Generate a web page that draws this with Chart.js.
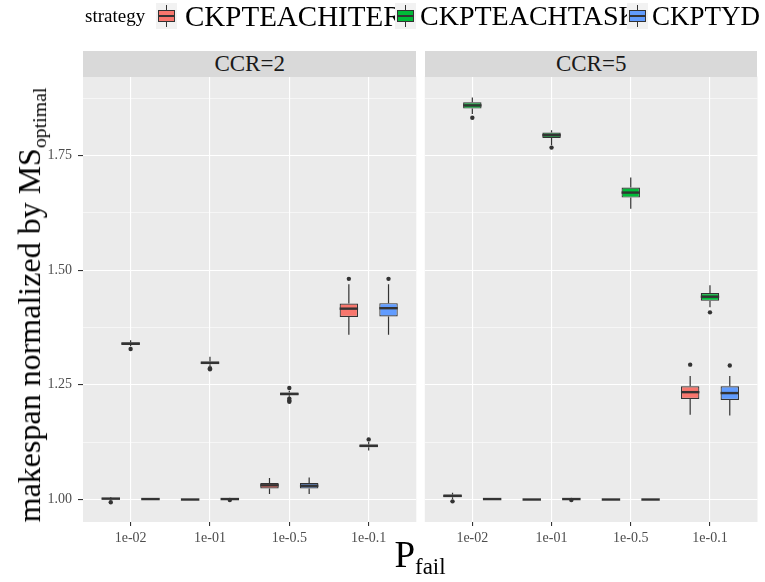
<!DOCTYPE html>
<html>
<head>
<meta charset="utf-8">
<script src="https://cdn.jsdelivr.net/npm/chart.js@4.4.1/dist/chart.umd.min.js"></script>
<style>
  body { margin: 0; background: #ffffff; font-family: 'Liberation Serif', serif; color: #000; }
  #wrap { position: relative; width: 765px; height: 582px; overflow: hidden; }
  canvas { position: absolute; top: 0; }
  .strip { position: absolute; top: 51px; height: 25.5px; background: #D9D9D9; color: #1A1A1A;
           font-size: 23px; line-height: 26px; text-align: center; }
  .key { position: absolute; top: 3px; width: 21px; height: 26px; background: #F2F2F2; }
  .key .whisk { position: absolute; left: 10px; top: 2px; width: 1.2px; height: 22px; background: #333; }
  .key .box { position: absolute; left: 2px; top: 7px; width: 15px; height: 10px; border: 1.2px solid #333; }
  .key .med { position: absolute; left: 2px; top: 12px; width: 17px; height: 2px; background: #333; }
  .lab { position: absolute; top: 0px; font-size: 28px; line-height: 32px; white-space: nowrap; }
  #ytitle { position: absolute; left: 31px; top: 305px; font-size: 32px; white-space: nowrap;
            transform: translate(-50%, -50%) rotate(-90deg); }
  #ytitle sub, #xtitle sub { font-size: 62%; vertical-align: -0.3em; }
  #xtitle { position: absolute; left: 420px; top: 535px; font-size: 37px; line-height: 40px;
            transform: translateX(-50%); white-space: nowrap; }
</style>
</head>
<body>
<div id="wrap">
  <canvas id="ccr2" width="420" height="582" style="left:0px"></canvas>
  <canvas id="ccr5" width="345" height="582" style="left:420px"></canvas>

  <div class="strip" style="left:83px; width:333.3px">CCR=2</div>
  <div class="strip" style="left:424.8px; width:332.7px">CCR=5</div>

  <div class="lab" style="left:85px; top:4px; font-size:19px; line-height:24px">strategy</div>
  <div class="key" style="left:156px"><div class="whisk"></div><div class="box" style="background:#F8766D"></div><div class="med"></div></div>
  <div class="lab" style="left:185px; font-size:29px">CKPTEACHITER</div>
  <div class="key" style="left:395px"><div class="whisk"></div><div class="box" style="background:#00BA38"></div><div class="med"></div></div>
  <div class="lab" style="left:420px">CKPTEACHTASK</div>
  <div class="key" style="left:627px"><div class="whisk"></div><div class="box" style="background:#619CFF"></div><div class="med"></div></div>
  <div class="lab" style="left:652px; font-size:27px">CKPTYD</div>

  <div id="ytitle">makespan normalized by MS<sub>optimal</sub></div>
  <div id="xtitle">P<sub>fail</sub></div>
</div>

<script>
// Categories and groups
const pfailLabels = ['1e-02', '1e-01', '1e-0.5', '1e-0.1'];
const strategies = ['CKPTEACHITER', 'CKPTEACHTASK', 'CKPTYD'];
const strategyColors = ['#F8766D', '#00BA38', '#619CFF'];

// Box stats per Pfail: [lower whisker, q1, median, q3, upper whisker]
const ccr2Iter = [[0.999, 1.000, 1.002, 1.003, 1.005], [1.000, 1.000, 1.000, 1.000, 1.000], [1.012, 1.024, 1.031, 1.036, 1.047], [1.359, 1.398, 1.416, 1.427, 1.469]];
const ccr2Task = [[1.334, 1.337, 1.340, 1.342, 1.347], [1.291, 1.295, 1.298, 1.301, 1.311], [1.224, 1.227, 1.230, 1.233, 1.237], [1.107, 1.114, 1.117, 1.120, 1.126]];
const ccr2Yd   = [[1.000, 1.000, 1.001, 1.002, 1.003], [0.999, 1.000, 1.001, 1.002, 1.003], [1.012, 1.024, 1.030, 1.036, 1.048], [1.359, 1.399, 1.417, 1.428, 1.469]];
const ccr5Iter = [[1.001, 1.005, 1.008, 1.011, 1.015], [1.000, 1.000, 1.000, 1.000, 1.000], [1.000, 1.000, 1.000, 1.000, 1.000], [1.185, 1.219, 1.234, 1.247, 1.269]];
const ccr5Task = [[1.840, 1.852, 1.859, 1.866, 1.876], [1.772, 1.788, 1.794, 1.800, 1.805], [1.634, 1.658, 1.669, 1.680, 1.702], [1.419, 1.433, 1.442, 1.450, 1.467]];
const ccr5Yd   = [[0.999, 1.000, 1.001, 1.001, 1.002], [1.000, 1.000, 1.001, 1.002, 1.003], [1.000, 1.000, 1.000, 1.000, 1.000], [1.183, 1.217, 1.232, 1.247, 1.269]];

// Outlier points per Pfail
const ccr2IterOut = [[0.994], [], [], [1.481]];
const ccr2TaskOut = [[1.328], [1.284, 1.286], [1.243, 1.220, 1.216, 1.213], [1.131]];
const ccr2YdOut   = [[], [0.999], [], [1.481]];
const ccr5IterOut = [[0.996], [], [], [1.294]];
const ccr5TaskOut = [[1.832], [1.767], [], [1.408]];
const ccr5YdOut   = [[], [0.999], [], [1.292]];

const yTicksMin = 0.951;
const yTicksMax = 1.922;

const FONT = 'Liberation Serif';

function isMajor(v) {
    return Math.abs(v * 4 - Math.round(v * 4)) < 1e-6;
}

// Grey panel background
const panelBg = {
    id: 'panelBg',
    beforeDraw(chart) {
        const { ctx, chartArea: a } = chart;
        ctx.save();
        ctx.fillStyle = '#EBEBEB';
        ctx.fillRect(a.left, a.top, a.right - a.left, a.bottom - a.top);
        ctx.restore();
    }
};

// Whiskers, medians and outliers on top of the floating bars
const boxWhiskers = {
    id: 'boxWhiskers',
    afterDatasetsDraw(chart) {
        const ctx = chart.ctx;
        const y = chart.scales.y;
        chart.data.datasets.forEach((ds, i) => {
            const meta = chart.getDatasetMeta(i);
            meta.data.forEach((bar, j) => {
                const [lo, q1, med, q3, hi] = ds.stats[j];
                const cx = bar.x;
                const half = bar.width / 2;
                ctx.save();
                ctx.strokeStyle = '#333333';
                ctx.lineWidth = 1.2;
                ctx.beginPath();
                ctx.moveTo(cx, y.getPixelForValue(q3));
                ctx.lineTo(cx, y.getPixelForValue(hi));
                ctx.moveTo(cx, y.getPixelForValue(q1));
                ctx.lineTo(cx, y.getPixelForValue(lo));
                ctx.stroke();

                ctx.lineWidth = 2.4;
                ctx.beginPath();
                ctx.moveTo(cx - half, y.getPixelForValue(med));
                ctx.lineTo(cx + half, y.getPixelForValue(med));
                ctx.stroke();

                ctx.fillStyle = '#333333';
                ds.outliers[j].forEach(v => {
                    ctx.beginPath();
                    ctx.arc(cx, y.getPixelForValue(v), 2.2, 0, Math.PI * 2);
                    ctx.fill();
                });
                ctx.restore();
            });
        });
    }
};

function makePanel(canvasId, series, outliers, showY, yAxisWidth, padRight) {
    const datasets = series.map((stats, s) => ({
        label: strategies[s],
        data: stats.map((b, k) => ({ x: k + 1, y: [b[1], b[3]] })),
        stats: stats,
        outliers: outliers[s],
        backgroundColor: strategyColors[s],
        borderColor: '#333333',
        borderWidth: 1.2,
        borderSkipped: false,
        categoryPercentage: 0.75,
        barPercentage: 0.93
    }));

    return new Chart(document.getElementById(canvasId), {
        type: 'bar',
        data: { datasets },
        options: {
            responsive: false,
            animation: false,
            layout: { padding: { top: 76.5, right: padRight, left: 0, bottom: 0 } },
            plugins: {
                legend: { display: false },
                tooltip: { enabled: false }
            },
            scales: {
                x: {
                    type: 'linear',
                    min: 0.4,
                    max: 4.6,
                    offset: false,
                    afterFit: s => { s.height = 60; },
                    border: { display: false },
                    grid: {
                        offset: false,
                        color: '#FFFFFF',
                        lineWidth: 1.1,
                        tickLength: 4,
                        tickColor: '#333333',
                        tickWidth: 1.1
                    },
                    ticks: {
                        stepSize: 1,
                        includeBounds: false,
                        autoSkip: false,
                        maxRotation: 0,
                        padding: 4,
                        color: '#4D4D4D',
                        font: { family: FONT, size: 14 },
                        callback: v => pfailLabels[v - 1] || ''
                    }
                },
                y: {
                    min: yTicksMin,
                    max: yTicksMax,
                    afterFit: s => { s.width = yAxisWidth; },
                    border: { display: false },
                    grid: {
                        color: '#FFFFFF',
                        lineWidth: c => (c.tick && isMajor(c.tick.value)) ? 1.1 : 0.55,
                        drawTicks: showY,
                        tickLength: 5,
                        tickWidth: 1.1,
                        tickColor: c => (c.tick && isMajor(c.tick.value)) ? '#333333' : 'rgba(0,0,0,0)'
                    },
                    ticks: {
                        display: showY,
                        stepSize: 0.125,
                        includeBounds: false,
                        autoSkip: false,
                        padding: 6,
                        color: '#4D4D4D',
                        font: { family: FONT, size: 14 },
                        callback: v => isMajor(v) ? v.toFixed(2) : ''
                    }
                }
            }
        },
        plugins: [panelBg, boxWhiskers]
    });
}

document.addEventListener('DOMContentLoaded', () => {
    makePanel('ccr2', [ccr2Iter, ccr2Task, ccr2Yd], [ccr2IterOut, ccr2TaskOut, ccr2YdOut], true, 83, 3.7);
    makePanel('ccr5', [ccr5Iter, ccr5Task, ccr5Yd], [ccr5IterOut, ccr5TaskOut, ccr5YdOut], false, 4.8, 7.5);
});
</script>
</body>
</html>
